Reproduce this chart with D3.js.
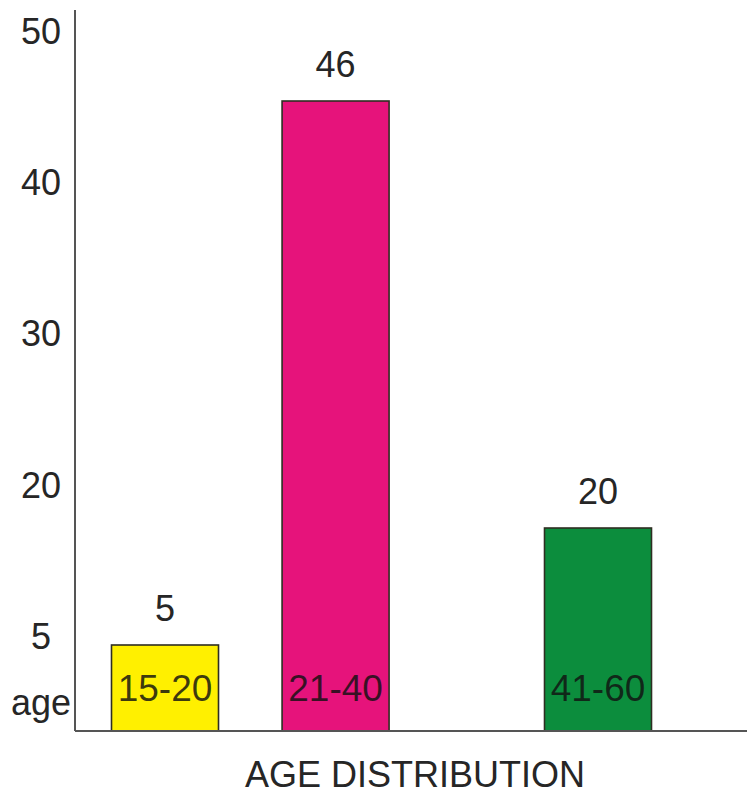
<!DOCTYPE html>
<html>
<head>
<meta charset="utf-8">
<script src="https://cdn.jsdelivr.net/npm/d3@7"></script>
<style>
  html, body { margin: 0; padding: 0; background: #fff; }
  svg { display: block; }
  text { font-family: "Liberation Sans", Arial, sans-serif; }
</style>
</head>
<body>
<svg id="chart" width="747" height="794"></svg>
<script>
// Age groups and the number of people in each
const categories = ["15-20", "21-40", "41-60"];
const ageMidpoints = [17.5, 30.5, 50.5];
const counts = [5, 46, 20];
const barColors = ["#fff000", "#e6137b", "#0c8d3d"];

// Labels printed down the left side
const yTickLabels = ["50", "40", "30", "20", "5"];
const yAxisLabel = "age";
const chartTitle = "AGE DISTRIBUTION";

const svg = d3.select("#chart");
const W = 747, H = 794;
const axisX = 75, baseY = 731, axisTop = 10;
const barWidth = 107;

// Horizontal placement of the bars follows the middle of each age range
const x = d3.scaleLinear().domain([17.5, 50.5]).range([165, 598]);

// Bar heights: a piecewise scale passing through each stated count
const y = d3.scaleLinear()
  .domain([0, 5, 20, 46])
  .range([baseY, 645, 528, 101]);

// Left-side labels spaced evenly down the axis
const yLab = d3.scalePoint().domain(yTickLabels).range([31, 636]);

const data = categories.map((c, i) => ({
  cat: c, mid: ageMidpoints[i], value: counts[i], color: barColors[i]
}));

// Bars
svg.selectAll("rect.bar").data(data).join("rect")
  .attr("class", "bar")
  .attr("x", d => x(d.mid) - barWidth / 2)
  .attr("y", d => y(d.value))
  .attr("width", barWidth)
  .attr("height", d => y(0) - y(d.value))
  .attr("fill", d => d.color)
  .attr("stroke", "#2e2e22")
  .attr("stroke-width", 1.6);

// Value labels above the bars
svg.selectAll("text.value").data(data).join("text")
  .attr("class", "value")
  .attr("x", d => x(d.mid))
  .attr("y", d => y(d.value) - 24)
  .attr("text-anchor", "middle")
  .attr("font-size", 36)
  .attr("fill", "#262626")
  .text(d => d.value);

// Age range names inside the bars
svg.selectAll("text.cat").data(data).join("text")
  .attr("class", "cat")
  .attr("x", d => x(d.mid))
  .attr("y", 701)
  .attr("text-anchor", "middle")
  .attr("font-size", 37)
  .attr("fill", "#111")
  .attr("fill-opacity", 0.82)
  .text(d => d.cat);

// Axis lines
svg.append("line")
  .attr("x1", axisX).attr("x2", axisX)
  .attr("y1", axisTop).attr("y2", baseY)
  .attr("stroke", "#555").attr("stroke-width", 2);
svg.append("line")
  .attr("x1", axisX).attr("x2", W)
  .attr("y1", baseY).attr("y2", baseY)
  .attr("stroke", "#555").attr("stroke-width", 2);

// Left-side labels
svg.selectAll("text.ytick").data(yTickLabels).join("text")
  .attr("class", "ytick")
  .attr("x", 41)
  .attr("y", d => yLab(d))
  .attr("dy", "0.36em")
  .attr("text-anchor", "middle")
  .attr("font-size", 36)
  .attr("fill", "#262626")
  .text(d => d);

svg.append("text")
  .attr("x", 41)
  .attr("y", 715)
  .attr("text-anchor", "middle")
  .attr("font-size", 36)
  .attr("fill", "#262626")
  .text(yAxisLabel);

// Title under the baseline
svg.append("text")
  .attr("x", 415)
  .attr("y", 787)
  .attr("text-anchor", "middle")
  .attr("font-size", 36)
  .attr("fill", "#262626")
  .text(chartTitle);
</script>
</body>
</html>
